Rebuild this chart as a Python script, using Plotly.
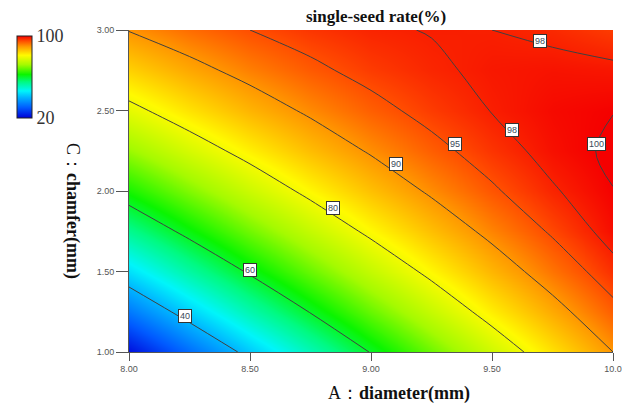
import plotly.graph_objects as go

# ---- data ----
diameter = [8.00, 8.25, 8.50, 8.75, 9.00, 9.25, 9.50, 9.75, 10.00]   # A (mm)
chamfer = [1.00, 1.25, 1.50, 1.75, 2.00, 2.25, 2.50, 2.75, 3.00]     # C (mm)

# estimated single-seed rate (%) at each (chamfer row, diameter column)
rate_c100 = [21.6, 32.1, 42.0, 51.4, 60.3, 68.5, 76.2, 83.4, 90.0]
rate_c125 = [33.3, 42.9, 51.9, 60.3, 68.1, 75.4, 82.2, 88.3, 93.9]
rate_c150 = [44.2, 52.8, 60.8, 68.2, 75.1, 81.4, 87.2, 92.4, 97.0]
rate_c175 = [54.2, 61.8, 68.8, 75.3, 81.2, 86.5, 91.3, 95.5, 99.2]
rate_c200 = [63.2, 69.8, 75.9, 81.4, 86.3, 90.7, 94.5, 97.7, 99.95]
rate_c225 = [71.3, 77.0, 82.0, 86.6, 90.5, 93.9, 96.7, 99.0, 100.4]
rate_c250 = [78.5, 83.2, 87.3, 90.8, 93.8, 96.2, 98.1, 99.4, 99.95]
rate_c275 = [84.8, 88.5, 91.6, 94.2, 96.2, 97.6, 98.5, 98.8, 98.6]
rate_c300 = [90.2, 92.9, 95.0, 96.6, 97.7, 98.1, 98.0, 97.4, 96.2]

contour_levels = [40, 60, 80, 90, 95, 98, 100]

label_texts = ["40", "60", "80", "90", "95", "98", "98", "100"]
label_x = [8.231, 8.50, 8.843, 9.103, 9.347, 9.583, 9.698, 9.930]
label_y = [1.223, 1.508, 1.892, 2.165, 2.289, 2.382, 2.933, 2.289]

x_tickvals = [8.0, 8.5, 9.0, 9.5, 10.0]
x_ticktext = ["8.00", "8.50", "9.00", "9.50", "10.0"]
y_tickvals = [1.0, 1.5, 2.0, 2.5, 3.0]
y_ticktext = ["1.00", "1.50", "2.00", "2.50", "3.00"]

z = [rate_c100, rate_c125, rate_c150, rate_c175, rate_c200,
     rate_c225, rate_c250, rate_c275, rate_c300]

colorscale = [
    [0.0, "rgb(0,0,215)"],
    [0.125, "rgb(0,90,255)"],
    [0.25, "rgb(0,180,255)"],
    [0.33, "rgb(0,245,250)"],
    [0.44, "rgb(0,250,130)"],
    [0.53, "rgb(10,245,0)"],
    [0.65, "rgb(165,250,0)"],
    [0.765, "rgb(255,250,0)"],
    [0.875, "rgb(255,150,0)"],
    [0.94, "rgb(255,75,0)"],
    [1.0, "rgb(245,0,0)"],
]

serif = "Liberation Serif, Times New Roman, serif"
sans = "Liberation Sans, Arial, sans-serif"

# plot area in pixels: x 129..613, y 30..352
L, T, PW, PH = 129.0, 30.0, 484.0, 322.0

fig = go.Figure()
fig.add_trace(go.Heatmap(
    x=diameter, y=chamfer, z=z, zmin=20, zmax=100, zsmooth="best",
    colorscale=colorscale, hoverinfo="skip",
    colorbar=dict(
        xref="paper", yref="paper", x=(17 - L) / PW, xanchor="left",
        y=(352 - 36) / PH, yanchor="top",
        lenmode="pixels", len=82,
        thickness=15, xpad=0, ypad=0, outlinecolor="#222", outlinewidth=1,
        tickvals=[20, 100], ticktext=["20", "100"], ticks="",
        tickfont=dict(family=serif, size=18, color="#333"),
    ),
))
for lev in contour_levels:
    fig.add_trace(go.Contour(
        x=diameter, y=chamfer, z=z, autocontour=False,
        contours=dict(start=lev, end=lev, size=1, coloring="none"),
        line=dict(color="#404040", width=1, smoothing=1.0),
        showscale=False, hoverinfo="skip",
    ))

annotations = []
for t, lx, ly in zip(label_texts, label_x, label_y):
    annotations.append(dict(
        x=lx, y=ly, xref="x", yref="y", text=t, showarrow=False,
        xanchor="center", yanchor="middle",
        font=dict(family=sans, size=9, color="#3a4a5a"),
        bgcolor="white", bordercolor="#333", borderwidth=1, borderpad=1,
    ))
annotations.append(dict(
    xref="paper", yref="paper", x=(376 - L) / PW, y=(352 - 16) / PH,
    xanchor="center", yanchor="middle",
    text="<b>single-seed rate(%)</b>", showarrow=False,
    font=dict(family=serif, size=17, color="#111"),
))
annotations.append(dict(
    xref="paper", yref="paper", x=(399 - L) / PW, y=(352 - 393) / PH,
    xanchor="center", yanchor="middle",
    text="A：<b>diameter(mm)</b>", showarrow=False,
    font=dict(family=serif, size=18, color="#111"),
))
annotations.append(dict(
    xref="paper", yref="paper", x=(73 - L) / PW, y=(352 - 211) / PH,
    xanchor="center", yanchor="middle",
    text="C：<b>chamfer(mm)</b>", showarrow=False, textangle=90,
    font=dict(family=serif, size=18, color="#111"),
))

fig.update_layout(
    width=622, height=403,
    margin=dict(l=129, r=9, t=30, b=51, autoexpand=False),
    paper_bgcolor="white", plot_bgcolor="white",
    showlegend=False,
    annotations=annotations,
    xaxis=dict(range=[8, 10], tickvals=x_tickvals, ticktext=x_ticktext,
               ticks="outside", ticklen=8, tickcolor="#555", showgrid=False,
               zeroline=False, showline=True, linecolor="#555", linewidth=1,
               tickfont=dict(family=sans, size=9, color="#555")),
    yaxis=dict(range=[1, 3], tickvals=y_tickvals, ticktext=y_ticktext,
               ticks="outside", ticklen=12, tickcolor="#555", showgrid=False,
               zeroline=False, showline=True, linecolor="#555", linewidth=1,
               tickfont=dict(family=sans, size=9, color="#555")),
)

fig.write_html("out.html", config={"displayModeBar": False},
               post_script="document.body.style.margin='0px';")
